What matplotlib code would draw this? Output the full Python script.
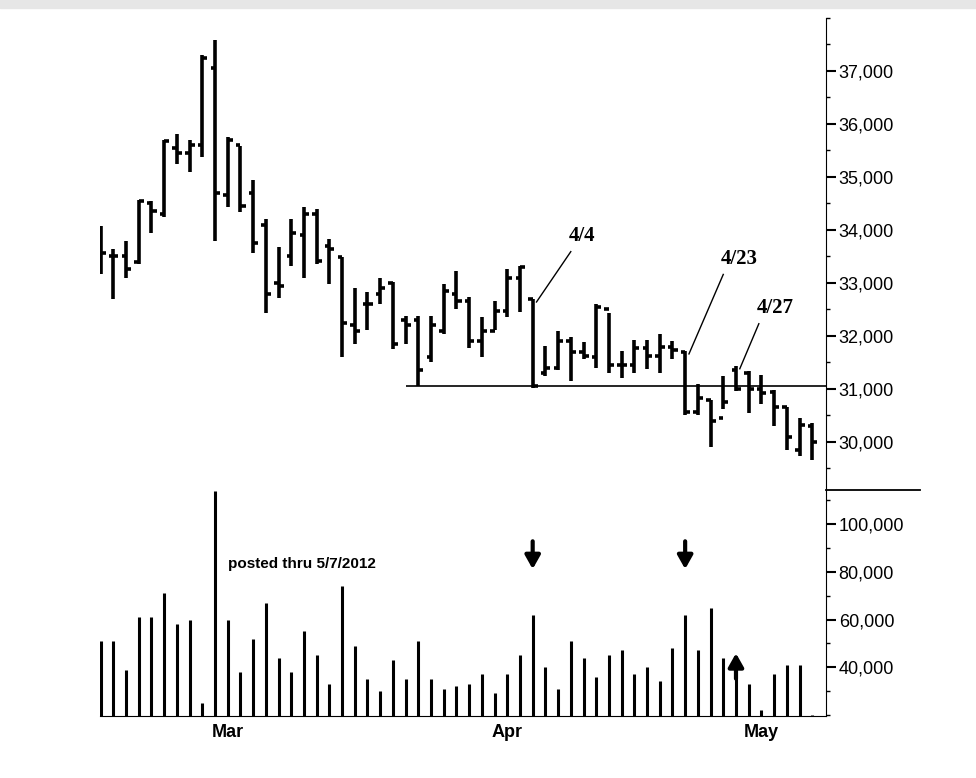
import matplotlib
matplotlib.use("Agg")
import matplotlib.pyplot as plt
from matplotlib.ticker import FuncFormatter, MultipleLocator
import numpy as np

# daily bars, Feb 15 .. May 7 2012 (trading days)
highs = [34080, 33640, 33800, 34560, 34540, 35700, 35800, 35700, 37300, 37590,
         35750, 35580, 34950, 34210, 33670, 34210, 34430, 34400, 33830, 33490,
         32900, 32830, 33100, 33010, 32370, 32370, 32370, 32980, 33220, 32730,
         32350, 32650, 33260, 33320, 32690, 31810, 32100, 31980, 31880, 32600,
         32430, 31710, 31930, 31930, 32030, 31900, 31710, 31100, 30800, 31240,
         31430, 31330, 31270, 30970, 30650, 30460, 30350]
lows = [33170, 32690, 33100, 33360, 33940, 34250, 35240, 35100, 35370, 33800,
        34440, 34340, 33560, 32440, 32720, 33320, 33100, 33350, 32980, 31610,
        31850, 32120, 32600, 31750, 31840, 31050, 31500, 32030, 32500, 31780,
        31600, 32120, 32350, 32460, 31020, 31250, 31350, 31150, 31570, 31400,
        31300, 31200, 31300, 31370, 31300, 31560, 30500, 30500, 29900, 30620,
        30960, 30540, 30710, 30300, 29840, 29730, 29650]
opens = [33600, 33500, 33500, 33400, 34500, 34300, 35550, 35450, 35600, 37050,
         34650, 35600, 34700, 34100, 33000, 33500, 33900, 34300, 33700, 33480,
         32200, 32600, 32800, 33000, 32300, 32300, 31600, 32100, 32800, 32650,
         31900, 32100, 32470, 33100, 32700, 31300, 31400, 31900, 31700, 31600,
         32500, 31450, 31450, 31770, 31620, 31800, 31700, 30560, 30800, 30450,
         31350, 31300, 31000, 30950, 30650, 29850, 30300]
closes = [33560, 33500, 33270, 34550, 34350, 35680, 35450, 35600, 37240, 34700,
          35700, 34460, 33750, 32800, 32940, 33950, 34300, 33410, 33640, 32250,
          32100, 32600, 32900, 31840, 32200, 31360, 32200, 32850, 32650, 31900,
          32100, 32470, 33100, 33300, 31050, 31400, 31900, 31700, 31620, 32550,
          31450, 31450, 31770, 31620, 31800, 31740, 30560, 30820, 30400, 30750,
          31000, 30990, 30930, 30660, 30100, 30320, 30000]
volumes = [51000, 51000, 39000, 61000, 61000, 71000, 58000, 60000, 25000, 114000,
           60000, 38000, 52000, 67000, 44000, 38000, 55000, 45000, 33000, 74000,
           49000, 35000, 30000, 43000, 35000, 51000, 35000, 31000, 32000, 33000,
           37000, 29000, 37000, 45000, 62000, 40000, 31000, 51000, 44000, 36000,
           45000, 47000, 37000, 40000, 34000, 48000, 62000, 47000, 65000, 44000,
           43000, 33000, 22000, 37000, 41000, 41000, 20000]
month_labels = ["Mar", "Apr", "May"]
month_idx = [10, 32, 52]
support = 31050
notes = [("4/4", 34), ("4/23", 46), ("4/27", 50)]

x = np.arange(len(highs))

fig = plt.figure(figsize=(9.76, 7.78), dpi=100)
fig.patches.append(plt.Rectangle((0, 0.99), 1, 0.01, transform=fig.transFigure,
                                 color="#e6e6e6", zorder=0))
ax = fig.add_axes([0.1025, 0.370, 0.744, 0.607])
axv = fig.add_axes([0.1025, 0.0797, 0.744, 0.2903], sharex=ax)

lw = 2.6
ax.vlines(x, lows, highs, color="black", lw=lw)
ax.hlines(closes, x, x + 0.4, color="black", lw=lw)
ax.hlines(opens, x - 0.35, x, color="black", lw=lw)
ax.hlines(support, 24, len(x) + 1, color="black", lw=1.2)

# annotations
offs = {"4/4": (3.0, 1000), "4/23": (3.0, 1550), "4/27": (1.8, 900)}
for lab, i in notes:
    dx, dy = offs[lab]
    ax.plot([i + 0.3, i + dx], [highs[i] - 50, highs[i] + dy - 100], color="black", lw=1)
    ax.text(i + dx - 0.2, highs[i] + dy, lab, family="Liberation Serif",
            fontweight="bold", fontsize=15, va="bottom", ha="left")

ax.set_ylim(29090, 38000)
ax.set_xlim(-0.05, 57.1)
ax.yaxis.tick_right()
ax.set_yticks([30000, 31000, 32000, 33000, 34000, 35000, 36000, 37000])
ax.yaxis.set_minor_locator(MultipleLocator(500))
fmt = FuncFormatter(lambda v, p: f"{int(v):,}")
ax.yaxis.set_major_formatter(fmt)
for a in (ax, axv):
    for s in ("top", "left"):
        a.spines[s].set_visible(False)
    a.tick_params(axis="y", direction="out", length=7, width=1.5, pad=2,
                  labelsize=13)
    a.tick_params(axis="y", which="minor", direction="out", length=3, width=1)
ax.spines["bottom"].set_visible(False)
ax.tick_params(axis="x", bottom=False, labelbottom=False)

axv.vlines(x, 0, volumes, color="black", lw=2.2)
axv.set_ylim(19500, 114300)
axv.yaxis.tick_right()
axv.set_yticks([40000, 60000, 80000, 100000])
axv.yaxis.set_minor_locator(MultipleLocator(10000))
axv.yaxis.set_major_formatter(fmt)
axv.set_xticks(month_idx)
axv.set_xticklabels(month_labels, family="Liberation Sans", fontweight="bold", fontsize=13)
axv.tick_params(axis="x", length=0, pad=6)
for t in ax.get_yticklabels() + axv.get_yticklabels():
    t.set_family("Liberation Sans")

# separator line extends past the axis
fig.add_artist(plt.Line2D([0.846, 0.943], [0.370, 0.370], color="black", lw=1.3))

axv.text(10, 81500, "posted thru 5/7/2012", family="Liberation Sans",
         fontweight="bold", fontsize=11)
arrow = dict(arrowstyle="-|>,head_width=0.45,head_length=0.8", color="black", lw=3)
for i in (34, 46):
    axv.annotate("", xy=(i, 80000), xytext=(i, 94000), arrowprops=arrow)
axv.annotate("", xy=(50, 47000), xytext=(50, 34000), arrowprops=arrow)

fig.savefig("out.png", dpi=100)
